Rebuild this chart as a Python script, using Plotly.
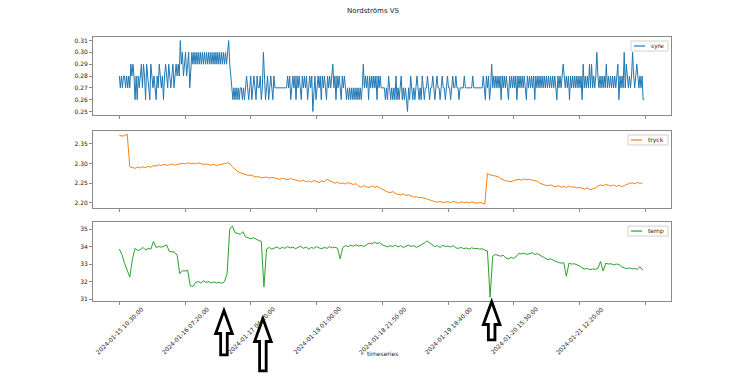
import plotly.graph_objects as go

# ---------------- data ----------------
title_text = "Nordströms VS"
x_title = "timeseries"
series_names = ["syre", "tryck", "temp"]
series_colors = ["#1f77b4", "#ff7f0e", "#2ca02c"]

# tick labels of the shared categorical time axis (every 125 samples)
tick_labels = ["2024-01-15 10:30:00", "2024-01-16 07:20:00", "2024-01-17 04:10:00",
               "2024-01-18 01:00:00", "2024-01-18 21:50:00", "2024-01-19 18:40:00",
               "2024-01-20 15:30:00", "2024-01-21 12:20:00", ""]
tick_step = 125

# syre, read every 2nd sample, in hundredths
syre_step = 2
syre_pct = [
    28, 27, 28, 27, 28, 28, 27, 28, 27, 28, 27, 29, 28, 29, 28, 26, 28, 26, 28, 27,
    28, 29, 27, 29, 28, 26, 29, 28, 27, 26, 29, 28, 27, 28, 27, 26, 28, 27, 29, 28,
    27, 28, 26, 28, 29, 28, 27, 29, 28, 27, 28, 29, 27, 28, 29, 28, 29, 28, 31, 29,
    30, 28, 29, 30, 28, 29, 30, 27, 29, 30, 29, 30, 29, 30, 29, 30, 29, 30, 29, 30,
    29, 30, 29, 30, 29, 30, 29, 30, 29, 30, 29, 30, 29, 30, 29, 30, 29, 30, 29, 30,
    29, 30, 29, 30, 31, 29, 28, 27, 26, 27, 26, 27, 26, 27, 26, 27, 27, 26, 27, 26,
    27, 28, 27, 26, 27, 28, 26, 27, 28, 27, 26, 28, 27, 27, 28, 26, 27, 30, 28, 26,
    27, 28, 26, 27, 28, 27, 26, 28, 27, 27, 27, 27, 27, 27, 27, 27, 27, 27, 27, 27,
    28, 27, 28, 26, 27, 28, 27, 28, 26, 28, 27, 28, 27, 26, 28, 27, 28, 27, 28, 26,
    27, 28, 27, 28, 25, 27, 28, 26, 27, 28, 27, 28, 26, 28, 27, 28, 27, 26, 28, 27,
    28, 27, 28, 29, 27, 28, 26, 28, 27, 28, 27, 26, 28, 27, 28, 27, 26, 27, 26, 27,
    26, 27, 26, 27, 26, 27, 26, 27, 26, 27, 26, 27, 29, 27, 28, 27, 28, 26, 28, 27,
    28, 27, 28, 27, 28, 26, 28, 27, 28, 27, 27, 27, 27, 26, 27, 26, 28, 27, 26, 27,
    26, 27, 26, 28, 26, 27, 26, 27, 28, 26, 27, 26, 27, 26, 25, 27, 26, 28, 27, 26,
    27, 26, 27, 28, 27, 26, 27, 26, 28, 27, 26, 27, 27, 28, 27, 26, 27, 27, 28, 27,
    26, 27, 28, 27, 27, 26, 27, 28, 27, 27, 26, 27, 28, 27, 27, 26, 27, 28, 27, 27,
    28, 27, 27, 26, 27, 27, 27, 27, 28, 27, 27, 27, 27, 27, 27, 27, 28, 27, 27, 27,
    27, 27, 27, 27, 27, 27, 28, 27, 26, 28, 27, 28, 26, 27, 29, 27, 28, 27, 28, 27,
    28, 27, 28, 26, 28, 27, 28, 27, 28, 27, 26, 28, 27, 28, 27, 28, 27, 28, 26, 28,
    27, 28, 27, 28, 27, 28, 27, 26, 28, 27, 28, 27, 28, 27, 28, 26, 28, 27, 28, 27,
    28, 27, 28, 27, 28, 27, 28, 27, 28, 27, 28, 27, 28, 27, 28, 27, 26, 28, 27, 28,
    27, 28, 29, 28, 27, 28, 27, 28, 26, 28, 27, 28, 27, 28, 27, 28, 27, 28, 27, 28,
    26, 29, 27, 28, 27, 28, 27, 29, 27, 29, 27, 28, 27, 28, 30, 28, 27, 28, 27, 28,
    27, 28, 27, 29, 27, 28, 27, 28, 27, 28, 27, 28, 27, 28, 29, 26, 28, 27, 28, 27,
    30, 27, 29, 28, 27, 28, 27, 28, 30, 28, 27, 28, 29, 28, 27, 28, 27, 28, 26, 26,
]

# tryck and temp, read every 5th sample
curve_step = 5
tryck = [
    2.372, 2.370, 2.371, 2.375, 2.292, 2.290, 2.288, 2.291, 2.289, 2.292,
    2.290, 2.293, 2.291, 2.295, 2.294, 2.297, 2.295, 2.298, 2.296, 2.297,
    2.299, 2.296, 2.298, 2.300, 2.301, 2.299, 2.302, 2.300, 2.301, 2.299,
    2.302, 2.300, 2.298, 2.299, 2.297, 2.296, 2.298, 2.295, 2.297, 2.298,
    2.300, 2.302, 2.301, 2.292, 2.285, 2.280, 2.277, 2.274, 2.272, 2.270,
    2.271, 2.268, 2.266, 2.267, 2.264, 2.265, 2.266, 2.263, 2.265, 2.264,
    2.262, 2.260, 2.263, 2.261, 2.259, 2.262, 2.260, 2.258, 2.257, 2.255,
    2.258, 2.254, 2.256, 2.253, 2.257, 2.255, 2.252, 2.256, 2.254, 2.260,
    2.256, 2.252, 2.250, 2.253, 2.249, 2.251, 2.248, 2.252, 2.250, 2.247,
    2.249, 2.243, 2.240, 2.244, 2.241, 2.239, 2.243, 2.240, 2.242, 2.238,
    2.236, 2.230, 2.228, 2.226, 2.229, 2.224, 2.222, 2.220, 2.223, 2.219,
    2.221, 2.218, 2.215, 2.216, 2.213, 2.214, 2.211, 2.210, 2.208, 2.205,
    2.203, 2.202, 2.204, 2.201, 2.202, 2.203, 2.201, 2.204, 2.202, 2.200,
    2.203, 2.201, 2.202, 2.200, 2.203, 2.201, 2.199, 2.202, 2.200, 2.197,
    2.275, 2.271, 2.270, 2.268, 2.267, 2.262, 2.258, 2.256, 2.255, 2.254,
    2.257, 2.259, 2.260, 2.258, 2.261, 2.259, 2.260, 2.258, 2.257, 2.255,
    2.250, 2.247, 2.245, 2.244, 2.246, 2.243, 2.241, 2.244, 2.240, 2.242,
    2.239, 2.243, 2.240, 2.241, 2.238, 2.240, 2.237, 2.235, 2.238, 2.234,
    2.236, 2.238, 2.243, 2.246, 2.244, 2.247, 2.245, 2.243, 2.246, 2.242,
    2.245, 2.241, 2.244, 2.248, 2.250, 2.251, 2.249, 2.252, 2.250, 2.251,
]

temp = [
    33.85, 33.55, 33.05, 32.70, 32.25, 33.30, 33.90, 33.78, 33.82, 33.95,
    33.80, 33.90, 33.85, 34.30, 33.95, 34.00, 33.97, 34.02, 34.10, 33.72,
    33.70, 33.68, 33.50, 32.45, 32.62, 32.60, 32.65, 31.75, 31.72, 31.95,
    32.00, 31.92, 32.05, 31.95, 32.00, 31.93, 31.98, 31.92, 31.96, 31.90,
    32.00, 32.45, 35.00, 35.18, 34.80, 34.75, 34.70, 34.85, 34.55, 34.50,
    34.45, 34.50, 34.40, 34.35, 34.30, 31.70, 33.85, 33.95, 33.85, 33.90,
    33.98, 33.88, 33.95, 33.90, 34.00, 33.92, 33.97, 33.88, 33.95, 34.02,
    33.90, 33.98, 33.85, 33.95, 33.90, 34.00, 33.92, 33.88, 33.95, 33.90,
    34.00, 33.92, 33.97, 33.90, 33.30, 33.95, 34.05, 34.00, 34.08, 34.02,
    34.10, 34.03, 34.07, 34.00, 34.10, 34.20, 34.15, 34.25, 34.18, 34.22,
    34.10, 34.05, 33.98, 34.05, 34.00, 34.08, 33.98, 34.05, 33.95, 34.02,
    34.08, 34.00, 34.05, 33.95, 34.02, 34.10, 34.20, 34.32, 34.20, 34.10,
    34.00, 34.05, 33.95, 34.08, 34.00, 34.03, 33.97, 34.05, 33.92, 33.90,
    33.95, 33.88, 33.92, 33.85, 33.93, 33.88, 33.90, 33.85, 33.88, 33.80,
    33.75, 31.10, 33.45, 33.55, 33.50, 33.45, 33.50, 33.35, 33.30, 33.38,
    33.32, 33.45, 33.60, 33.58, 33.62, 33.55, 33.60, 33.65, 33.55, 33.60,
    33.50, 33.40, 33.30, 33.25, 33.30, 33.20, 33.15, 33.10, 33.05, 33.08,
    32.30, 33.05, 33.00, 33.02, 32.95, 32.90, 32.78, 32.72, 32.75, 32.68,
    32.72, 32.70, 32.75, 33.15, 32.60, 33.05, 33.00, 33.02, 32.95, 33.00,
    32.98, 32.85, 32.78, 32.75, 32.78, 32.72, 32.75, 32.70, 32.85, 32.65,
]

y_ticks = [[0.25, 0.26, 0.27, 0.28, 0.29, 0.30, 0.31],
           [2.20, 2.25, 2.30, 2.35],
           [31, 32, 33, 34, 35]]
y_ranges = [[0.247, 0.313], [2.187, 2.383], [30.89, 35.40]]
y_fmt = [".2f", ".2f", "d"]

# sample indices where the hollow arrows point (bottom panel)
arrow_at = [199, 273, 708]

# ---------------- layout constants ----------------
# the page body has an 8px margin, so the figure is drawn 8px smaller/shifted
OFF = 8
W, H = 746 - OFF, 376 - OFF
L, T = 93 - OFF, 37 - OFF
R = W - (671 - OFF)
B = H - (301 - OFF)
FONT = "DejaVu Sans"
TXT = "#222222"
SPINE = "#8a8a8a"
domains = [[0.7045, 1.0], [0.352, 0.644], [0.0, 0.299]]
x_range = [-50, 1049]
plot_h = H - T - B
plot_w = W - L - R


def py(screen_y):
    """screen pixel row -> paper y"""
    return ((H - B) - (screen_y - OFF)) / plot_h


syre = [v / 100 for v in syre_pct]
all_series = [(syre, syre_step), (tryck, curve_step), (temp, curve_step)]

fig = go.Figure()
for i, (vals, step) in enumerate(all_series):
    xs = [k * step for k in range(len(vals))]
    sfx = "" if i == 0 else str(i + 1)
    fig.add_trace(go.Scatter(x=xs, y=vals, mode="lines", name=series_names[i],
                             line=dict(color=series_colors[i], width=1),
                             xaxis="x" + sfx, yaxis="y" + sfx, showlegend=False,
                             hoverinfo="skip"))

tickvals = [k * tick_step for k in range(len(tick_labels))]
axis_common = dict(showline=True, mirror=True, linecolor=SPINE, linewidth=1,
                   ticks="outside", ticklen=3, tickwidth=1, tickcolor=SPINE,
                   showgrid=False, zeroline=False,
                   tickfont=dict(family=FONT, size=6, color=TXT))
layout = dict(width=W, height=H, autosize=False,
              margin=dict(l=L, r=R, t=T, b=B, pad=0),
              paper_bgcolor="white", plot_bgcolor="white",
              font=dict(family=FONT, size=6, color=TXT), showlegend=False)
for i in range(3):
    sfx = "" if i == 0 else str(i + 1)
    layout["xaxis" + sfx] = dict(axis_common, domain=[0, 1], anchor="y" + sfx,
                                 range=x_range, tickvals=tickvals,
                                 showticklabels=False,
                                 **({} if i == 0 else {"matches": "x"}))
    layout["yaxis" + sfx] = dict(axis_common, domain=domains[i], anchor="x" + sfx,
                                 range=y_ranges[i], tickvals=y_ticks[i],
                                 tickformat=y_fmt[i])
fig.update_layout(**layout)

annotations = []
shapes = []

# title
annotations.append(dict(text=title_text, xref="paper", yref="paper",
                        x=(373 - OFF - L) / plot_w, y=py(11),
                        xanchor="center", yanchor="middle", showarrow=False,
                        font=dict(family=FONT, size=7, color=TXT)))
# x axis title
annotations.append(dict(text=x_title, xref="paper", yref="paper", x=0.5,
                        y=py(353), xanchor="center",
                        yanchor="middle", showarrow=False,
                        font=dict(family=FONT, size=6, color=TXT)))
# rotated x tick labels centred on their ticks
for tv, lab in zip(tickvals, tick_labels):
    if not lab:
        continue
    annotations.append(dict(text=lab, xref="x3", yref="paper", x=tv,
                            y=py(330), textangle=-45,
                            xanchor="center", yanchor="middle", showarrow=False,
                            font=dict(family=FONT, size=6, color=TXT)))

# legends (matplotlib style, upper right of each panel)
text_w = [13, 16, 16]
for i in range(3):
    top = domains[i][1]
    right = -3
    left = right - (24 + text_w[i])
    shapes.append(dict(type="rect", xref="paper", yref="paper",
                       xsizemode="pixel", ysizemode="pixel", xanchor=1, yanchor=top,
                       x0=left, x1=right, y0=-4, y1=-14,
                       line=dict(color="#d0d0d0", width=1),
                       fillcolor="rgba(255,255,255,0.85)", layer="above"))
    shapes.append(dict(type="line", xref="paper", yref="paper",
                       xsizemode="pixel", ysizemode="pixel", xanchor=1, yanchor=top,
                       x0=left + 3, x1=left + 14, y0=-9, y1=-9,
                       line=dict(color=series_colors[i], width=1.2), layer="above"))
    annotations.append(dict(text=series_names[i], xref="paper", yref="paper",
                            x=1, y=top, xshift=left + 18, yshift=-9,
                            xanchor="left", yanchor="middle", showarrow=False,
                            font=dict(family=FONT, size=6, color=TXT)))

# hollow arrows under the bottom panel
arrow_tip = [8, 16, -1]      # px below bottom panel edge
arrow_len = [47, 55, 41]     # px
for ax_i, tip, ln in zip(arrow_at, arrow_tip, arrow_len):
    t = tip + 1.5
    hl = 23
    hw, sw = 8.3, 3.3
    b = tip + ln - 1.2
    path = (f"M 0,{-t} L {hw},{-(t + hl)} L {sw},{-(t + hl)} L {sw},{-b} "
            f"L {-sw},{-b} L {-sw},{-(t + hl)} L {-hw},{-(t + hl)} Z")
    shapes.append(dict(type="path", xref="x3", yref="paper", xsizemode="pixel",
                       ysizemode="pixel", xanchor=ax_i, yanchor=0, path=path,
                       fillcolor="white", line=dict(color="black", width=2.8),
                       layer="above"))

fig.update_layout(annotations=annotations, shapes=shapes)
fig.write_html("out.html")
